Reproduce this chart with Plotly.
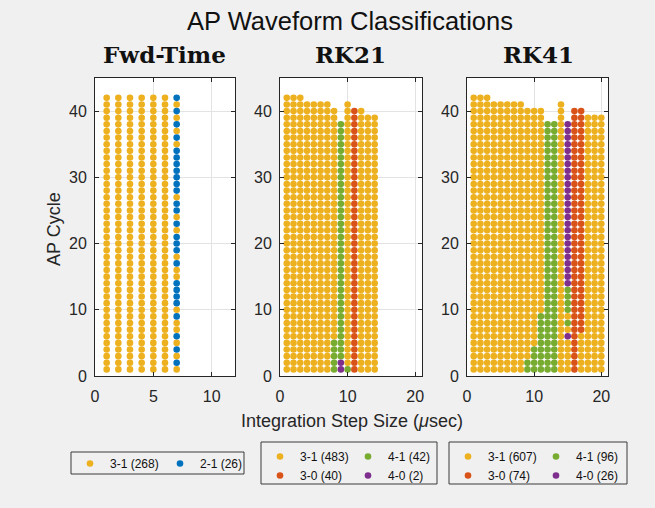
import plotly.graph_objects as go

# ---------------- data ----------------
# Fwd-Time: integration step sizes (usec) and highest AP cycle per step
fwd_steps = [1, 2, 3, 4, 5, 6, 7]
fwd_top = [42, 42, 42, 42, 42, 42, 42]
# segments (step, first cycle, last cycle) that are not 3-1
fwd_21 = [(7, 2, 2), (7, 4, 4), (7, 6, 6), (7, 9, 9), (7, 11, 14), (7, 17, 17),
          (7, 19, 21), (7, 23, 23), (7, 25, 26), (7, 28, 34), (7, 36, 36),
          (7, 38, 38), (7, 40, 40), (7, 42, 42)]

# RK21
rk21_steps = [1, 2, 3, 4, 5, 6, 7, 8, 9, 10, 11, 12, 13, 14]
rk21_top = [42, 42, 42, 41, 41, 41, 41, 40, 38, 41, 40, 40, 39, 39]
rk21_41 = [(8, 1, 5), (9, 3, 38), (10, 1, 1)]
rk21_30 = [(11, 1, 40)]
rk21_40 = [(9, 1, 2)]

# RK41
rk41_steps = [1, 2, 3, 4, 5, 6, 7, 8, 9, 10, 11, 12, 13, 14, 15, 16, 17, 18, 19, 20]
rk41_top = [42, 42, 42, 41, 41, 41, 41, 41, 40, 40, 40, 38, 38, 41, 38, 40, 40, 39, 39, 39]
rk41_41 = [(9, 1, 2), (10, 1, 4), (11, 1, 9), (12, 1, 38), (13, 1, 38), (15, 10, 13), (15, 8, 8)]
rk41_30 = [(16, 1, 40), (17, 7, 40)]
rk41_40 = [(15, 14, 38), (15, 6, 6)]

panel_titles = ["Fwd-Time", "RK21", "RK41"]
class_names = ["3-1", "2-1", "4-1", "3-0", "4-0"]
class_colors = {"3-1": "#EDB120", "2-1": "#0072BD", "4-1": "#77AC30",
                "3-0": "#D95319", "4-0": "#7E2F8E"}
y_ticks = [0, 10, 20, 30, 40]
x_ticks = [[0, 5, 10], [0, 10, 20], [0, 10, 20]]
x_ranges = [[0, 12], [0, 21], [0, 21]]

# ---------------- helpers ----------------
def classify(steps, top, special):
    pts = {c: ([], []) for c in class_names}
    lookup = {}
    for cls, segs in special.items():
        for (s, a, b) in segs:
            for cyc in range(a, b + 1):
                lookup[(s, cyc)] = cls
    for s, t in zip(steps, top):
        for cyc in range(1, t + 1):
            cls = lookup.get((s, cyc), "3-1")
            pts[cls][0].append(s)
            pts[cls][1].append(cyc)
    return pts

panels = [
    classify(fwd_steps, fwd_top, {"2-1": fwd_21}),
    classify(rk21_steps, rk21_top, {"4-1": rk21_41, "3-0": rk21_30, "4-0": rk21_40}),
    classify(rk41_steps, rk41_top, {"4-1": rk41_41, "3-0": rk41_30, "4-0": rk41_40}),
]
legend_order = [["3-1", "2-1"], ["3-1", "3-0", "4-1", "4-0"], ["3-1", "3-0", "4-1", "4-0"]]
legend_group = {"3-1": "a", "3-0": "a", "2-1": "b", "4-1": "b", "4-0": "b"}

W, H = 655, 508
SANS = "Liberation Sans, Arial, Helvetica, sans-serif"
AXC = "#262626"
BG = "#f0f0f0"

fig = go.Figure()
xdoms = [[95 / W, 235 / W], [280 / W, 422 / W], [467 / W, 608 / W]]
ydom = [1 - 376 / H, 1 - 78 / H]
legend_ids = ["legend", "legend2", "legend3"]

for i, pts in enumerate(panels):
    xa = "x" if i == 0 else f"x{i + 1}"
    ya = "y" if i == 0 else f"y{i + 1}"
    for cls in legend_order[i]:
        xs, ys = pts[cls]
        fig.add_trace(go.Scatter(
            x=xs, y=ys, mode="markers", xaxis=xa, yaxis=ya,
            name=f"{cls} ({len(xs)})",
            legend=legend_ids[i],
            legendgroup=f"p{i}{legend_group[cls]}",
            marker=dict(size=6.6, color=class_colors[cls], line=dict(width=0)),
            hoverinfo="x+y+name",
        ))

layout = dict(
    width=W, height=H,
    margin=dict(l=0, r=0, t=0, b=0),
    paper_bgcolor=BG, plot_bgcolor="white",
    template="none",
    font=dict(family=SANS, color=AXC, size=16),
    showlegend=True,
)
for i in range(3):
    sx = "" if i == 0 else str(i + 1)
    layout[f"xaxis{sx}"] = dict(
        domain=xdoms[i], range=x_ranges[i], tickvals=x_ticks[i],
        anchor=f"y{sx}", showline=True, linecolor=AXC, linewidth=1,
        mirror="ticks", ticks="inside", ticklen=4, tickcolor=AXC,
        showgrid=True, gridcolor="#e3e3e3", zeroline=False,
        tickfont=dict(size=16, color=AXC, family=SANS), ticklabelstandoff=6,
    )
    layout[f"yaxis{sx}"] = dict(
        domain=ydom, range=[0, 45], tickvals=y_ticks,
        anchor=f"x{sx}", showline=True, linecolor=AXC, linewidth=1,
        mirror="ticks", ticks="inside", ticklen=4, tickcolor=AXC,
        showgrid=True, gridcolor="#e3e3e3", zeroline=False,
        tickfont=dict(size=16, color=AXC, family=SANS), ticklabelstandoff=4,
    )

leg_common = dict(orientation="h", xanchor="left", yanchor="top",
                  bgcolor="rgba(0,0,0,0)", borderwidth=0,
                  font=dict(size=12, family=SANS, color="#111111"),
                  traceorder="grouped", itemwidth=30, entrywidthmode="pixels")
layout["legend"] = dict(leg_common, x=70 / W, y=1 - 449 / H, entrywidth=45)
layout["legend2"] = dict(leg_common, x=260 / W, y=1 - 442 / H, entrywidth=43)
layout["legend3"] = dict(leg_common, x=448 / W, y=1 - 442 / H, entrywidth=43)

# legend frames (x0, y0, x1, y1) in pixels
legend_boxes = [(71, 452, 244, 474), (261, 442, 437, 484), (449, 442, 627, 484)]
layout["shapes"] = [
    dict(type="rect", xref="paper", yref="paper",
         x0=b[0] / W, x1=b[2] / W, y0=1 - b[3] / H, y1=1 - b[1] / H,
         line=dict(color="#3a3a3a", width=1), fillcolor="rgba(0,0,0,0)", layer="above")
    for b in legend_boxes
]

annotations = [
    dict(text="AP Waveform Classifications", x=350 / W, y=1 - 21 / H, xref="paper", yref="paper",
         xanchor="center", yanchor="middle", showarrow=False,
         font=dict(size=25.5, family=SANS, color="#111111")),
    dict(text="Integration Step Size (<i>μ</i>sec)", x=352 / W, y=1 - 421 / H, xref="paper", yref="paper",
         xanchor="center", yanchor="middle", showarrow=False,
         font=dict(size=18, family=SANS, color=AXC)),
    dict(text="AP Cycle", x=54 / W, y=1 - 229 / H, xref="paper", yref="paper",
         xanchor="center", yanchor="middle", showarrow=False, textangle=-90,
         font=dict(size=18, family=SANS, color=AXC)),
]
title_cx = [164, 350, 538]
for i, t in enumerate(panel_titles):
    annotations.append(dict(
        text=f"<b>{t}</b>", x=title_cx[i] / W, y=1 - 54 / H, xref="paper", yref="paper",
        xanchor="center", yanchor="middle", showarrow=False,
        font=dict(size=23, family="DejaVu Serif, serif", color="#111111")))
layout["annotations"] = annotations

fig.update_layout(**layout)
fig.write_html("out.html")
